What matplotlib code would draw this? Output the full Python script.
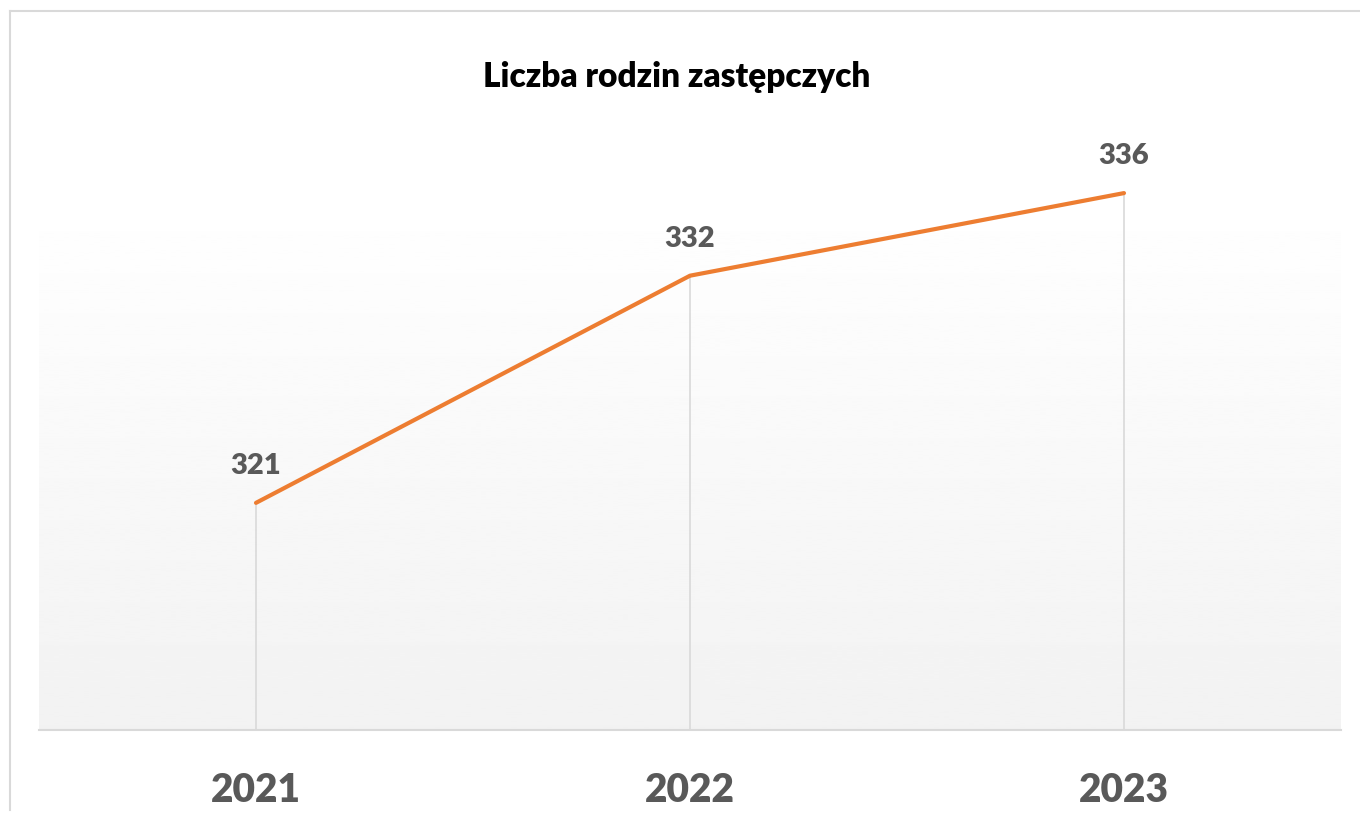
import matplotlib.pyplot as plt
import numpy as np
from matplotlib.lines import Line2D

years = ['2021', '2022', '2023']
values = [321, 332, 336]
title = 'Liczba rodzin zastępczych'

plt.rcParams['font.family'] = ['Lato', 'DejaVu Sans']

W, H = 1360, 818
fig = plt.figure(figsize=(W / 100, H / 100), dpi=100)
ax = fig.add_axes([39 / W, (H - 730) / H, (1341 - 39) / W, (730 - 190) / H])

x = np.arange(len(years))
ymin, ymax = 310, 336.15
ax.set_xlim(-0.5, len(years) - 0.5)
ax.set_ylim(ymin, ymax)

# gradient fill of plot area (white on top, light gray at bottom)
grad = np.linspace(1.0, 0.949, 256).reshape(-1, 1)
ax.imshow(grad, cmap='gray', vmin=0, vmax=1, aspect='auto',
          extent=[-0.5, len(years) - 0.5, ymin, ymax], origin='upper', zorder=0)

# drop lines
ax.vlines(x, ymin, values, color='#d9d9d9', lw=1.2, zorder=1)
ax.plot(x, values, color='#ed7d31', lw=3, solid_capstyle='round', zorder=3)

for xi, v in zip(x, values):
    ax.annotate(str(v), (xi, v), xytext=(0, 17), textcoords='offset points',
                ha='center', va='bottom', fontsize=21, fontweight='heavy', color='#595959')

ax.set_xticks(x)
ax.set_xticklabels(years, fontsize=28, fontweight='heavy', color='#595959')
ax.tick_params(axis='x', length=0, pad=30)
ax.set_yticks([])
for s in ['top', 'left', 'right']:
    ax.spines[s].set_visible(False)
ax.spines['bottom'].set_color('#d9d9d9')
ax.spines['bottom'].set_linewidth(1.5)

fig.text(677 / W, 1 - 77 / H, title, ha='center', va='center',
         fontsize=24, fontweight='heavy', color='black')

# chart frame
fig.add_artist(Line2D([10 / W, 1.0], [1 - 11 / H, 1 - 11 / H], color='#d9d9d9', lw=1.5))
fig.add_artist(Line2D([10 / W, 10 / W], [1 - 11 / H, 1 - 810 / H], color='#d9d9d9', lw=1.5))

fig.savefig('out.png', dpi=100)
